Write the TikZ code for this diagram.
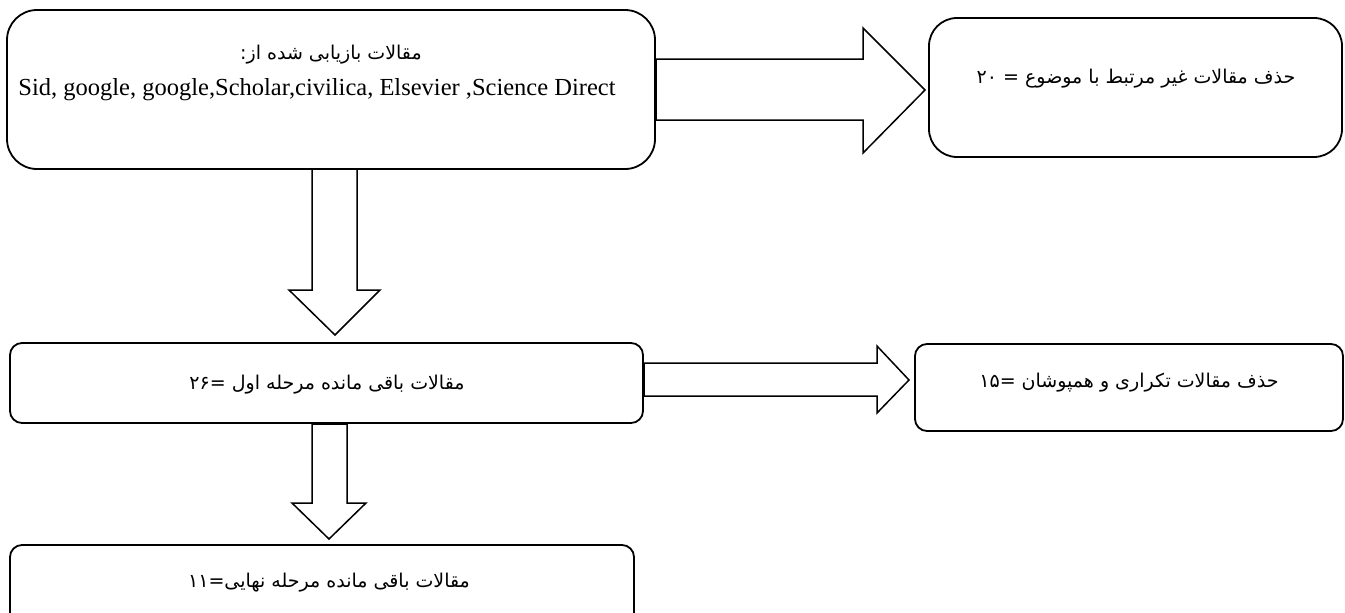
\documentclass[tikz,border=0pt]{standalone}
\usepackage{fontspec}
\setmainfont{Liberation Serif}
\newfontfamily\fa[Script=Arabic]{DejaVu Sans}
\TeXXeTstate=1
\begin{document}
\begin{tikzpicture}[x=1pt,y=-1pt,
  box/.style={draw,line width=1.8pt,rounded corners=#1},
  fat/.style={draw,line width=1.5pt,line join=miter},
  fatxt/.style={font=\fa\fontsize{19}{22}\selectfont,inner sep=0pt},
  latxt/.style={font=\fontsize{24.5}{28}\selectfont,inner sep=0pt}]
\useasboundingbox (0,0) rectangle (1345,613);
\clip (0,0) rectangle (1345,613);
% boxes
\draw[box=30pt] (7,10) rectangle (655,169);
\draw[box=28pt] (929,18) rectangle (1342,157);
\draw[box=12pt] (10,343) rectangle (643,423);
\draw[box=12pt] (915,344) rectangle (1343,431);
\draw[box=12pt] (10,545) rectangle (634,630);
% texts
\node[fatxt] (t1a) at (331,55) {\beginR مقالات بازیابی شده از:\endR};
\node[latxt] (t1b) at (317,90) {Sid, google, google,Scholar,civilica, Elsevier ,Science Direct};
\node[fatxt] (t2) at (1136,79) {\beginR حذف مقالات غیر مرتبط با موضوع = \beginL ۲۰\endL\endR};
\node[fatxt] (t3) at (327,385) {\beginR مقالات باقی مانده مرحله اول =\beginL ۲۶\endL\endR};
\node[fatxt] (t4) at (1129,383) {\beginR حذف مقالات تکراری و همپوشان =\beginL ۱۵\endL\endR};
\node[fatxt] (t5) at (329,583) {\beginR مقالات باقی مانده مرحله نهایی=\beginL ۱۱\endL\endR};
% block arrows
\draw[fat,fill=white] (656,59) -- (863,59) -- (863,28) -- (925,90) -- (863,153) -- (863,120) -- (656,120) -- cycle;
\draw[fat,fill=white] (312,169) -- (312,290) -- (289,290) -- (335,335) -- (380,290) -- (357,290) -- (357,169) -- cycle;
\draw[fat,fill=white] (644,363) -- (877,363) -- (877,346) -- (909,380) -- (877,413) -- (877,396) -- (644,396) -- cycle;
\draw[fat,fill=white] (312,424) -- (312,503) -- (292,503) -- (329,539) -- (366,503) -- (347,503) -- (347,424) -- cycle;
\end{tikzpicture}
\end{document}
